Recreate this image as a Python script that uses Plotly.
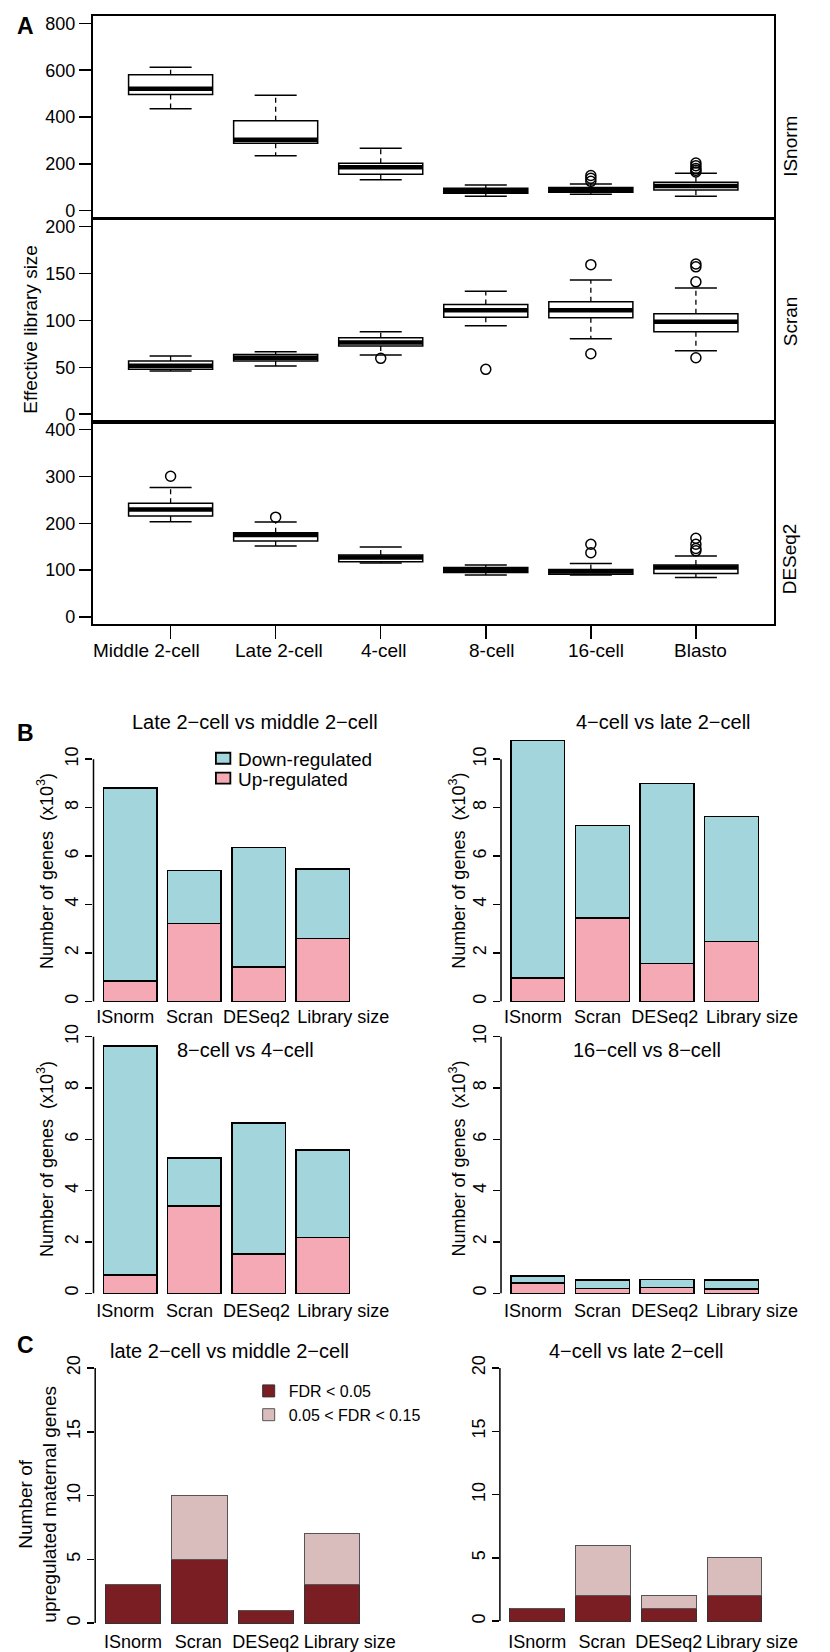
import plotly.graph_objects as go

W, H = 830, 1652
FONT = "Liberation Sans, Arial, Helvetica, sans-serif"

# ---------------- Panel A data (box statistics) ----------------
A_GROUPS = ["Middle 2-cell", "Late 2-cell", "4-cell", "8-cell", "16-cell", "Blasto"]
A_METHODS = ["ISnorm", "Scran", "DESeq2"]

ISNORM_LOWER = [435, 234, 132, 61, 70, 61]
ISNORM_Q1 = [496, 288, 155, 74, 78, 88]
ISNORM_MED = [521, 303, 185, 84, 88, 105]
ISNORM_Q3 = [581, 384, 202, 95, 98, 121]
ISNORM_UPPER = [613, 493, 266, 109, 114, 159]
ISNORM_OUT = [[], [], [], [], [125, 138, 150], [165, 172, 180, 192, 203]]

SCRAN_LOWER = [46.0, 51.3, 63.0, 94.2, 80.4, 67.6]
SCRAN_Q1 = [47.8, 56.6, 72.6, 103.4, 102.7, 87.8]
SCRAN_MED = [51.7, 60.2, 76.5, 110.8, 110.8, 98.4]
SCRAN_Q3 = [56.6, 63.7, 81.4, 116.8, 119.7, 106.9]
SCRAN_UPPER = [62.0, 66.5, 87.8, 131.0, 143.0, 134.5]
SCRAN_OUT = [[], [], [59.5], [47.8], [159.3, 64.4], [160, 157, 141, 60.2]]

DESEQ_LOWER = [203.2, 151.3, 115.1, 89.5, 89.5, 83.8]
DESEQ_Q1 = [215.3, 162.0, 117.9, 94.5, 90.9, 92.4]
DESEQ_MED = [229.5, 174.8, 126.5, 100.2, 96.6, 105.2]
DESEQ_Q3 = [243.0, 179.8, 132.1, 105.2, 100.9, 110.8]
DESEQ_UPPER = [276.4, 202.5, 149.2, 110.8, 113.7, 130.0]
DESEQ_OUT = [[300.5], [213], [], [], [155, 137], [168, 155, 146, 141]]

A_YTICKS = [[0, 200, 400, 600, 800], [0, 50, 100, 150, 200], [0, 100, 200, 300, 400]]

# ---------------- Panel B data (x10^3 genes) ----------------
METHODS = ["ISnorm", "Scran", "DESeq2", "Library size"]
B_TITLES = ["Late 2\u2212cell vs middle 2\u2212cell", "4\u2212cell vs late 2\u2212cell",
            "8\u2212cell vs 4\u2212cell", "16\u2212cell vs 8\u2212cell"]
B_SERIES = ["Down-regulated", "Up-regulated"]
B_UP = [
    [0.84, 3.21, 1.42, 2.59],
    [0.97, 3.44, 1.56, 2.48],
    [0.72, 3.40, 1.53, 2.17],
    [0.41, 0.18, 0.22, 0.16],
]
B_DOWN = [
    [7.97, 2.20, 4.93, 2.88],
    [9.81, 3.82, 7.44, 5.15],
    [8.92, 1.88, 5.11, 3.41],
    [0.26, 0.34, 0.32, 0.36],
]

# ---------------- Panel C data (number of genes) ----------------
C_TITLES = ["late 2\u2212cell vs middle 2\u2212cell", "4\u2212cell vs late 2\u2212cell"]
C_FDR05 = [[3, 5, 1, 3], [1, 2, 1, 2]]
C_FDR15 = [[0, 5, 0, 4], [0, 4, 1, 3]]

# ---------------- styling constants ----------------
CYAN = "#A2D6DC"
PINK = "#F5A9B4"
DARK = "#7B1E24"
LIGHT = "#D9BCBC"
BAR_POS = [0.7, 1.9, 3.1, 4.3]
B_LABEL_SHIFT = [-0.09, -0.09, -0.04, 0.38]
C_LABEL_SHIFT = [0.0, -0.02, 0.0, 0.32]
BOX_W = 0.8      # box width (data units)
STAPLE_W = 0.4   # staple width (data units)


def px_x(p):
    return p / W


def px_y(p):
    return 1 - p / H


def span(v0, p0, v1, p1, r0, r1):
    s = (p1 - p0) / (v1 - v0)
    return p0 + (r0 - v0) * s, p0 + (r1 - v0) * s


def xdom(v0, p0, v1, p1, r0, r1):
    a, b = span(v0, p0, v1, p1, r0, r1)
    return [px_x(a), px_x(b)]


def ydom(v0, p0, v1, p1, r0, r1):
    a, b = span(v0, p0, v1, p1, r0, r1)
    return [px_y(a), px_y(b)]


def hsegments(xs, ys, half):
    sx, sy = [], []
    for x, y in zip(xs, ys):
        sx += [x - half, x + half, None]
        sy += [y, y, None]
    return sx, sy


fig = go.Figure()
layout = {}
annotations = []
shapes = []

# ================= Panel A =================
A_RANGE_X = [0.26, 6.74]
A_XD = xdom(1, 177, 6, 722, *A_RANGE_X)
A_Y_ANCH = [(0, 208.3, 800, 20.5), (0, 412.7, 200, 224.3), (0, 616, 400, 428.3)]
A_Y_RANGE = [[-32, 832], [-8, 208], [-16, 416]]
A_STATS = [
    (ISNORM_LOWER, ISNORM_Q1, ISNORM_MED, ISNORM_Q3, ISNORM_UPPER, ISNORM_OUT),
    (SCRAN_LOWER, SCRAN_Q1, SCRAN_MED, SCRAN_Q3, SCRAN_UPPER, SCRAN_OUT),
    (DESEQ_LOWER, DESEQ_Q1, DESEQ_MED, DESEQ_Q3, DESEQ_UPPER, DESEQ_OUT),
]
xpos = list(range(1, len(A_GROUPS) + 1))

for i in range(3):
    n = i + 1
    sfx = "" if n == 1 else str(n)
    xa, ya = "x" + sfx, "y" + sfx
    lo, q1, med, q3, up, out = A_STATS[i]
    last = (i == 2)
    layout["xaxis" + sfx] = dict(
        domain=A_XD, range=A_RANGE_X, anchor=ya, showline=True, mirror=True,
        linecolor="black", linewidth=2, showgrid=False, zeroline=False,
        ticks="outside" if last else "", tickvals=xpos if last else [],
        ticklen=13, tickwidth=1.5, tickcolor="black", showticklabels=False,
    )
    layout["yaxis" + sfx] = dict(
        domain=ydom(*A_Y_ANCH[i], *A_Y_RANGE[i]), range=A_Y_RANGE[i], anchor=xa,
        showline=True, mirror=True, linecolor="black", linewidth=2,
        showgrid=False, zeroline=False, tickvals=A_YTICKS[i], ticks="outside",
        ticklen=12, tickwidth=1.5, tickcolor="black",
        tickfont=dict(size=18, color="black", family=FONT),
    )
    fig.add_trace(go.Box(
        x=xpos, q1=q1, median=med, q3=q3, lowerfence=q1, upperfence=q3,
        width=BOX_W, fillcolor="white", line=dict(color="black", width=1.5),
        whiskerwidth=0, boxpoints=False, xaxis=xa, yaxis=ya,
        showlegend=False, hoverinfo="skip",
    ))
    # dashed whiskers
    wx, wy = [], []
    for k in range(len(xpos)):
        wx += [xpos[k], xpos[k], None, xpos[k], xpos[k], None]
        wy += [q3[k], up[k], None, q1[k], lo[k], None]
    fig.add_trace(go.Scatter(
        x=wx, y=wy, mode="lines", line=dict(color="black", width=1.3, dash="5px,4px"),
        xaxis=xa, yaxis=ya, showlegend=False, hoverinfo="skip",
    ))
    # staples
    sx, sy = hsegments(xpos + xpos, lo + up, STAPLE_W / 2)
    fig.add_trace(go.Scatter(
        x=sx, y=sy, mode="lines", line=dict(color="black", width=1.5),
        xaxis=xa, yaxis=ya, showlegend=False, hoverinfo="skip",
    ))
    # thick median
    mx, my = hsegments(xpos, med, BOX_W / 2)
    fig.add_trace(go.Scatter(
        x=mx, y=my, mode="lines", line=dict(color="black", width=4.5),
        xaxis=xa, yaxis=ya, showlegend=False, hoverinfo="skip",
    ))
    # outliers
    ox, oy = [], []
    for k, vals in enumerate(out):
        ox += [xpos[k]] * len(vals)
        oy += vals
    fig.add_trace(go.Scatter(
        x=ox, y=oy, mode="markers",
        marker=dict(symbol="circle-open", size=10, color="black", line=dict(width=1.5)),
        xaxis=xa, yaxis=ya, showlegend=False, hoverinfo="skip",
    ))

A_XLABEL_SHIFT = [-24, 3, 3, 6, 5, 5]
for k, g in enumerate(A_GROUPS):
    annotations.append(dict(
        x=xpos[k], xref="x3", y=px_y(650), yref="paper", text=g, showarrow=False,
        xanchor="center", yanchor="middle", xshift=A_XLABEL_SHIFT[k],
        font=dict(size=19, color="black", family=FONT),
    ))
A_STRIP_Y = [144, 319, 558]
for i, m in enumerate(A_METHODS):
    annotations.append(dict(
        x=px_x(820), y=px_y(A_STRIP_Y[i]), xref="paper", yref="paper", text=m,
        textangle=-90, showarrow=False, xanchor="center", yanchor="middle",
        font=dict(size=19, color="black", family=FONT),
    ))
annotations.append(dict(
    x=px_x(32), y=px_y(327), xref="paper", yref="paper", text="Effective library size",
    textangle=-90, showarrow=False, xanchor="center", yanchor="middle",
    font=dict(size=19, color="black", family=FONT),
))

# ================= Panel B =================
B_RX = [0.016, 4.984]
B_PANELS = [
    # (x anchors, y anchors, y range, label line px, title center px, ytitle center px)
    ((0.7, 135, 4.3, 335), (0, 1002, 10, 759), [-0.4, 11.2], 1005, (265, 722), (48, 871)),
    ((0.7, 558, 4.3, 759), (0, 1002, 10, 759), [-0.4, 11.2], 1005, (688, 722), (475, 871)),
    ((0.7, 135, 4.3, 335), (0, 1295, 10, 1037.5), [-0.4, 10.4], 1300, (255, 1051), (48, 1160)),
    ((0.7, 558, 4.3, 759), (0, 1295, 10, 1037.5), [-0.4, 10.4], 1300, (671, 1051), (475, 1160)),
]
for j, (xa_anc, ya_anc, yr, lab_px, tpos, ypos) in enumerate(B_PANELS):
    n = 4 + j
    xa, ya = "x%d" % n, "y%d" % n
    layout["xaxis%d" % n] = dict(
        domain=xdom(*xa_anc, *B_RX), range=B_RX, anchor="free", position=px_y(lab_px),
        showline=False, showgrid=False, zeroline=False, ticks="",
        tickvals=[p + s for p, s in zip(BAR_POS, B_LABEL_SHIFT)], ticktext=METHODS,
        tickfont=dict(size=18, color="black", family=FONT),
    )
    layout["yaxis%d" % n] = dict(
        domain=ydom(*ya_anc, *yr), range=yr, anchor=xa, showline=False,
        showgrid=False, zeroline=False, tickvals=[0, 2, 4, 6, 8, 10],
        ticks="outside", ticklen=7, tickwidth=1.5, tickcolor="black", tickangle=-90,
        tickfont=dict(size=18, color="black", family=FONT),
    )
    shapes.append(dict(type="line", xref="%s domain" % xa, x0=0, x1=0, yref=ya, y0=0, y1=10,
                       line=dict(color="black", width=1.5)))
    fig.add_trace(go.Bar(
        x=BAR_POS, y=B_UP[j], width=1, name=B_SERIES[1],
        marker=dict(color=PINK, line=dict(color="black", width=1.5)),
        xaxis=xa, yaxis=ya, showlegend=False, hoverinfo="skip",
    ))
    fig.add_trace(go.Bar(
        x=BAR_POS, y=B_DOWN[j], width=1, name=B_SERIES[0],
        marker=dict(color=CYAN, line=dict(color="black", width=1.5)),
        xaxis=xa, yaxis=ya, showlegend=False, hoverinfo="skip",
    ))
    annotations.append(dict(
        x=px_x(tpos[0]), y=px_y(tpos[1]), xref="paper", yref="paper", text=B_TITLES[j],
        showarrow=False, xanchor="center", yanchor="middle",
        font=dict(size=20, color="black", family=FONT),
    ))
    annotations.append(dict(
        x=px_x(ypos[0]), y=px_y(ypos[1]), xref="paper", yref="paper",
        text="Number of genes  (x10<sup>3</sup>)", textangle=-90, showarrow=False,
        xanchor="center", yanchor="middle", font=dict(size=18, color="black", family=FONT),
    ))

# legend of panel B (key boxes + labels)
B_KEY = [(B_SERIES[0], CYAN, 758), (B_SERIES[1], PINK, 778)]
for name, col, cy in B_KEY:
    shapes.append(dict(type="rect", xref="paper", yref="paper",
                       x0=px_x(224), x1=px_x(239), y0=px_y(cy + 5.5), y1=px_y(cy - 5.5),
                       fillcolor=col, line=dict(color="black", width=1.8)))
    annotations.append(dict(
        x=px_x(245), y=px_y(cy + 1), xref="paper", yref="paper", text=name,
        showarrow=False, xanchor="left", yanchor="middle",
        font=dict(size=19, color="black", family=FONT),
    ))

# ================= Panel C =================
C_RX = [0.016, 4.984]
C_PANELS = [
    ((0.7, 138, 4.3, 344.5), (0, 1626, 20, 1370), (238, 1353)),
    ((0.7, 557.5, 4.3, 762), (0, 1624, 20, 1370), (660, 1353)),
]
C_YR = [-0.8, 20.8]
for j, (xa_anc, ya_anc, tpos) in enumerate(C_PANELS):
    n = 8 + j
    xa, ya = "x%d" % n, "y%d" % n
    layout["xaxis%d" % n] = dict(
        domain=xdom(*xa_anc, *C_RX), range=C_RX, anchor="free", position=px_y(1632),
        showline=False, showgrid=False, zeroline=False, ticks="",
        tickvals=[p + s for p, s in zip(BAR_POS, C_LABEL_SHIFT)], ticktext=METHODS,
        tickfont=dict(size=18, color="black", family=FONT),
    )
    layout["yaxis%d" % n] = dict(
        domain=ydom(*ya_anc, *C_YR), range=C_YR, anchor=xa, showline=False,
        showgrid=False, zeroline=False, tickvals=[0, 5, 10, 15, 20],
        ticks="outside", ticklen=7, tickwidth=1.5, tickcolor="black", tickangle=-90,
        tickfont=dict(size=18, color="black", family=FONT),
    )
    shapes.append(dict(type="line", xref="%s domain" % xa, x0=0, x1=0, yref=ya, y0=0, y1=20,
                       line=dict(color="black", width=1.5)))
    fig.add_trace(go.Bar(
        x=BAR_POS, y=C_FDR05[j], width=1, name="FDR < 0.05",
        marker=dict(color=DARK, line=dict(color="#333333", width=1)),
        xaxis=xa, yaxis=ya, showlegend=(j == 0), legend="legend", legendrank=1, hoverinfo="skip",
    ))
    fig.add_trace(go.Bar(
        x=BAR_POS, y=C_FDR15[j], width=1, name="0.05 < FDR < 0.15",
        marker=dict(color=LIGHT, line=dict(color="#555555", width=1)),
        xaxis=xa, yaxis=ya, showlegend=(j == 0), legend="legend", legendrank=2, hoverinfo="skip",
    ))
    annotations.append(dict(
        x=px_x(tpos[0]), y=px_y(tpos[1]), xref="paper", yref="paper", text=C_TITLES[j],
        showarrow=False, xanchor="center", yanchor="middle",
        font=dict(size=20, color="black", family=FONT),
    ))
annotations.append(dict(
    x=px_x(38.5), y=px_y(1507), xref="paper", yref="paper",
    text="Number of<br>upregulated maternal genes", textangle=-90, showarrow=False,
    xanchor="center", yanchor="middle", font=dict(size=19, color="black", family=FONT),
))

# panel letters
for letter, (lx, ly) in zip(["A", "B", "C"], [(26.5, 23), (26, 733), (26, 1347)]):
    annotations.append(dict(
        x=px_x(lx), y=px_y(ly), xref="paper", yref="paper", text="<b>%s</b>" % letter,
        showarrow=False, xanchor="center", yanchor="middle",
        font=dict(size=23, color="black", family=FONT),
    ))

# width is left to the page (fills the window), height fixed to the window height
fig.update_layout(
    height=H, autosize=True, margin=dict(l=0, r=0, t=0, b=0),
    paper_bgcolor="white", plot_bgcolor="rgba(0,0,0,0)",
    font=dict(family=FONT, color="black"),
    barmode="stack", annotations=annotations, shapes=shapes,
    legend=dict(x=px_x(258), y=px_y(1376), xanchor="left", yanchor="top",
                bgcolor="rgba(0,0,0,0)", font=dict(size=16, family=FONT, color="black"),
                traceorder="normal", tracegroupgap=0),
    **layout,
)

fig.write_html(
    "out.html",
    config={"displayModeBar": False, "staticPlot": True, "responsive": True},
    post_script=(
        "document.body.style.margin='0';document.body.style.overflow='hidden';"
        "Plotly.Plots.resize(document.getElementById('{plot_id}'));"
    ),
)
